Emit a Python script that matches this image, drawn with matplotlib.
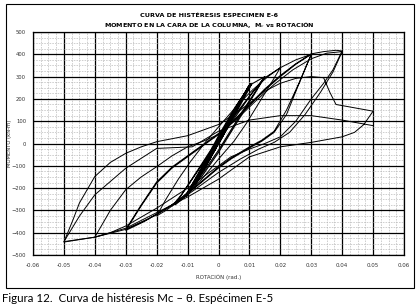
import matplotlib
matplotlib.use("Agg")
import matplotlib.pyplot as plt
from matplotlib.patches import Rectangle
from matplotlib.ticker import MultipleLocator

# ---------------- data ----------------
x_ticks = [-0.06, -0.05, -0.04, -0.03, -0.02, -0.01, 0, 0.01, 0.02, 0.03, 0.04, 0.05, 0.06]
x_tick_labels = ["-0.06", "-0.05", "-0.04", "-0.03", "-0.02", "-0.01", "0",
                 "0.01", "0.02", "0.03", "0.04", "0.05", "0.06"]
y_ticks = [-500, -400, -300, -200, -100, 0, 100, 200, 300, 400, 500]

# small elastic cycles (thick bundle)
rot_small = [0, 0.004, 0.002, -0.004, -0.002, 0.005, 0.003, -0.005, -0.003, 0.0075, 0.005,
             0.0, -0.0075, -0.005, 0.0, 0.0075, 0.004, -0.0075, -0.004, 0.01, 0.006, 0.0,
             -0.006, -0.0105, -0.006, -0.002, 0.002, 0.006, 0.0105, 0.006, 0.0, -0.006, -0.0105,
             -0.005, 0.0, 0.005, 0.0105]
mom_small = [0, 105, 55, -95, -45, 135, 80, -120, -70, 200, 135, 10, -180, -115, 15, 200, 100,
             -180, -90, 260, 160, 20, -130, -235, -135, -30, 70, 170, 265, 150, 5, -140, -235,
             -100, 30, 150, 265]

# cycles to +/-0.015
rot_c15 = [0.0105, 0.015, 0.012, 0.008, 0.004, 0.0, -0.005, -0.01, -0.015, -0.012, -0.008, -0.004, 0.0,
           0.005, 0.01, 0.015, 0.012, 0.008, 0.004, 0.0, -0.005, -0.01, -0.014, -0.011, -0.007,
           -0.003, 0.001, 0.006, 0.011, 0.015]
mom_c15 = [265, 300, 235, 150, 60, -30, -130, -220, -280, -230, -150, -70, 10,
           110, 210, 300, 230, 140, 50, -40, -140, -230, -275, -210, -125,
           -40, 40, 140, 230, 295]

# cycles to +/-0.02
rot_c20 = [0.015, 0.02, 0.017, 0.013, 0.009, 0.005, 0.0, -0.006, -0.012, -0.017, -0.02,
           -0.017, -0.013, -0.009, -0.004, 0.001, 0.006, 0.011, 0.016, 0.02]
mom_c20 = [295, 340, 270, 180, 90, 10, -70, -170, -250, -300, -325,
           -250, -160, -80, 10, 90, 170, 240, 300, 340]

# cycles to +/-0.03
rot_c30 = [0.02, 0.025, 0.03, 0.0255, 0.022, 0.018, 0.014, 0.01, 0.004, 0.0, -0.006, -0.012, -0.018,
           -0.024, -0.03,
           -0.025, -0.02, -0.015, -0.01, -0.005, 0.0, 0.005, 0.01, 0.015, 0.02, 0.025, 0.03,
           0.026, 0.022, 0.018, 0.014, 0.01, 0.004, 0.0, -0.008, -0.016, -0.023, -0.03,
           -0.025, -0.02, -0.015, -0.01, -0.005, 0.0, 0.005, 0.01, 0.015, 0.02, 0.025, 0.03]
mom_c30 = [340, 375, 400, 250, 130, 50, 10, -20, -70, -110, -180, -250, -300,
           -350, -390,
           -280, -178, -110, -60, -10, 40, 100, 170, 240, 300, 355, 400,
           270, 150, 55, 15, -15, -65, -105, -200, -285, -340, -385,
           -275, -172, -105, -55, -5, 45, 105, 175, 245, 305, 358, 402]

# cycles to +/-0.04
rot_c40 = [0.03, 0.034, 0.038, 0.04, 0.037, 0.034, 0.03, 0.025, 0.02, 0.015, 0.01, 0.004, 0.0, -0.01,
           -0.02, -0.03, -0.035, -0.04,
           -0.035, -0.03, -0.025, -0.02, -0.015, -0.01, -0.005, 0.0, 0.006, 0.012, 0.018, 0.024,
           0.03, 0.035, 0.04]
mom_c40 = [402, 412, 418, 415, 330, 270, 200, 100, 30, 0, -25, -60, -100, -200,
           -290, -370, -400, -420,
           -300, -207, -150, -104, -55, -15, 10, 40, 110, 190, 265, 330,
           380, 405, 412]

# unloading from +0.04 to -0.05 and reloading with fracture at ~+0.035
rot_c50 = [0.04, 0.037, 0.033, 0.028, 0.023, 0.018, 0.013, 0.007, 0.0, -0.01, -0.02, -0.03, -0.04, -0.05,
           -0.047, -0.045, -0.04, -0.035, -0.03, -0.025, -0.02, -0.01, 0.0, 0.006, 0.01, 0.015,
           0.02, 0.025, 0.03, 0.034, 0.036, 0.038, 0.044, 0.05]
mom_c50 = [412, 320, 230, 130, 50, 5, -25, -70, -130, -230, -320, -385, -420, -442,
           -340, -267, -148, -85, -44, -15, 8, 35, 85, 140, 180, 235,
           270, 292, 300, 295, 230, 175, 160, 145]

# last excursions after the fracture
rot_end = [0.05, 0.047, 0.044, 0.04, 0.03, 0.02, 0.01, 0.004, 0.0, -0.01, -0.02, -0.03, -0.04, -0.05,
           -0.045, -0.04, -0.03, -0.02, -0.0085, 0.0, 0.01, 0.02, 0.03, 0.04, 0.05]
mom_end = [145, 85, 50, 30, 5, -15, -60, -120, -160, -240, -310, -380, -420, -440,
           -326, -230, -111, -22, -15, 55, 105, 125, 125, 105, 80]

branches = [(rot_small, mom_small, 1.5),
            (rot_c15, mom_c15, 0.8),
            (rot_c20, mom_c20, 0.7),
            (rot_c30, mom_c30, 0.7),
            (rot_c40, mom_c40, 0.7),
            (rot_c50, mom_c50, 0.7),
            (rot_end, mom_end, 0.7)]

# ---------------- figure ----------------
fig = plt.figure(figsize=(4.19, 3.08), dpi=100)
fig.patch.set_facecolor("white")

fig.patches.append(Rectangle((6 / 419, 1 - 288 / 308), (414 - 6) / 419, (288 - 4) / 308,
                             transform=fig.transFigure, fill=False, edgecolor="black", lw=0.8))

ax = fig.add_axes([33 / 419, 1 - 255 / 308, (404 - 33) / 419, (255 - 32) / 308])
for rot, mom, lw in branches:
    ax.plot(rot, mom, color="black", lw=lw, solid_joinstyle="round")

ax.set_xlim(-0.06, 0.06)
ax.set_ylim(-500, 500)
ax.set_xticks(x_ticks)
ax.set_xticklabels(x_tick_labels)
ax.set_yticks(y_ticks)
ax.xaxis.set_minor_locator(MultipleLocator(0.0025))
ax.yaxis.set_minor_locator(MultipleLocator(25))
ax.grid(which="minor", color="#b4b4b4", lw=0.45, ls=(0, (2.5, 1.8)))
ax.grid(which="major", color="black", lw=0.9)
ax.set_axisbelow(True)
ax.tick_params(which="both", length=0)
ax.tick_params(axis="x", labelsize=4, pad=6, colors="#333333")
ax.tick_params(axis="y", labelsize=3.8, pad=5, colors="#333333")
for s in ax.spines.values():
    s.set_linewidth(0.9)

ax.set_xlabel("ROTACIÓN (rad.)", fontsize=4, color="#333333", labelpad=4)
ax.set_ylabel("MOMENTO (kN-m)", fontsize=3.8, color="#333333")
ax.yaxis.set_label_coords((12 - 33) / (404 - 33), 0.5)

fig.text(209 / 419, 1 - 15 / 308, "CURVA DE HISTÉRESIS ESPECIMEN E-6", ha="center", va="center",
         fontsize=4.6, fontweight="bold")
fig.text(209 / 419, 1 - 25 / 308, "MOMENTO EN LA CARA DE LA COLUMNA,  M$_c$ vs ROTACIÓN",
         ha="center", va="center", fontsize=4.6, fontweight="bold")

fig.text(2 / 419, 1 - 298 / 308, "Figura 12.  Curva de histéresis Mc – θ. Espécimen E-5",
         ha="left", va="center", fontsize=8.3, family="Lato")

fig.savefig("out.png", dpi=100, facecolor="white")
